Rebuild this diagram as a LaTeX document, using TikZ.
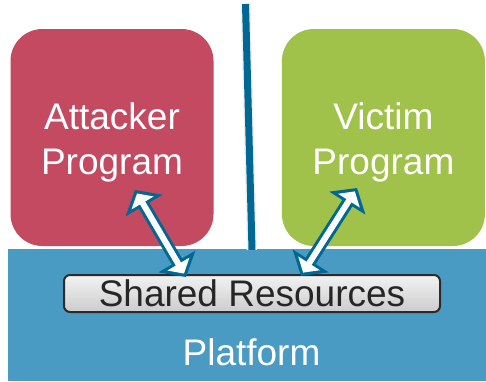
\documentclass[tikz,border=0pt]{standalone}
\usepackage{fontspec}
\setmainfont{Liberation Sans}
\usetikzlibrary{positioning, arrows.meta, shadows}

\definecolor{attackred}{RGB}{195,74,96}
\definecolor{victimgreen}{RGB}{160,193,74}
\definecolor{platformblue}{RGB}{74,155,196}
\definecolor{linkblue}{RGB}{0,104,148}
\definecolor{sharedborder}{RGB}{43,43,43}

\tikzset{
	program/.style={rounded corners=32pt, minimum width=203pt, minimum height=217pt, inner sep=0pt},
	bigtext/.style={text=white, align=center, font=\fontsize{37}{45}\selectfont},
	platform/.style={fill=platformblue, minimum width=478pt, minimum height=132pt, inner sep=0pt},
	shared/.style={draw=sharedborder, line width=2pt, rounded corners=6pt, top color=gray!10, bottom color=black!20, minimum width=376pt, minimum height=37pt, inner sep=0pt, font=\fontsize{37}{45}\selectfont, text=black!85, drop shadow={shadow xshift=1pt, shadow yshift=-1.5pt, opacity=0.35}},
	divider/.style={draw=linkblue, line width=7pt},
	linkouter/.style={draw=linkblue, line width=12pt, {Triangle[length=18pt,width=42pt]}-{Triangle[length=18pt,width=42pt]}},
	linkinner/.style={draw=white, line width=6pt, shorten <=4pt, shorten >=4pt, {Triangle[length=11pt,width=25pt]}-{Triangle[length=11pt,width=25pt]}},
}

\begin{document}
\begin{tikzpicture}[x=1pt, y=-1pt]
	\useasboundingbox (0,0) rectangle (486,381);

	\node[program, fill=attackred] (attacker) at (112,137.5) {};
	\node[program, fill=victimgreen, right=68pt of attacker] (victim) {};
	\node[bigtext] (attacker-name) at ([yshift=-5pt]attacker.center) {Attacker\\Program};
	\node[bigtext] (victim-name) at ([yshift=-5pt]victim.center) {Victim\\Program};
	\node[platform] (platform) at (247,315) {};
	\node[bigtext, anchor=base] (platform-name) at (251.5,365) {Platform};

	\coordinate (divider-top) at (245.5,4);
	\coordinate (divider-bottom) at (252,250);
	\draw[black!6, line width=10pt] (divider-top) -- (divider-bottom);
	\draw[divider] (divider-top) -- (divider-bottom);

	\node[shared] (shared) at (252,293.5) {Shared Resources};

	\coordinate (attacker-tip) at (135,190);
	\coordinate (attacker-res) at (186,277);
	\coordinate (victim-tip) at (357,188);
	\coordinate (victim-res) at (301,276);

	\draw[linkouter] (attacker-tip) -- (attacker-res);
	\draw[linkinner] (attacker-tip) -- (attacker-res);
	\draw[linkouter] (victim-tip) -- (victim-res);
	\draw[linkinner] (victim-tip) -- (victim-res);
\end{tikzpicture}
\end{document}
